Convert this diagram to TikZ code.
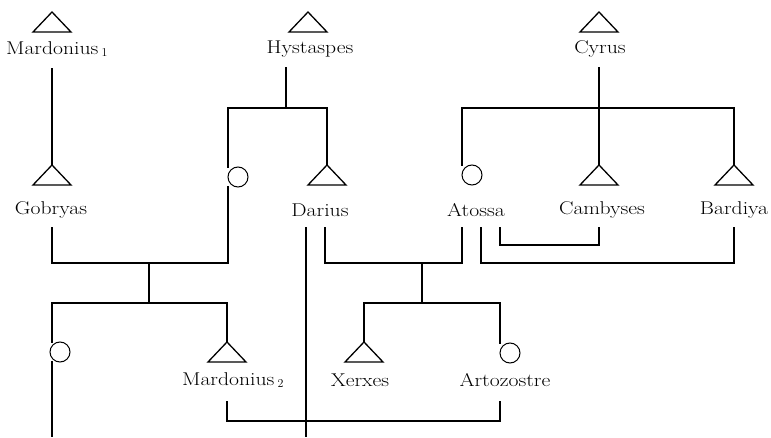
\documentclass[tikz,border=0pt]{standalone}
\usepackage{fontspec}
\setmainfont{Latin Modern Roman}[FakeStretch=1.17]
\usetikzlibrary{calc}
\begin{document}
\begin{tikzpicture}[x=1pt,y=-1pt,
  kin/.style={line width=1.6pt},
  malesym/.style={line width=1.3pt},
  femsym/.style={circle,draw,line width=1pt,minimum size=20pt,inner sep=0pt},
  lbl/.style={inner sep=0pt,font=\fontsize{18.5}{22}\selectfont},
  line cap=rect]
\useasboundingbox (0,0) rectangle (771,438);
% male symbols: apex coordinates
\foreach \n/\x/\y in {mar1/52/12,hys/308/12,cyr/599/12,gob/52/165,dar/327/165,cam/599/165,bar/734/165,mar2/227/342,xer/364/342}{
  \coordinate (\n) at (\x,\y);
  \draw[malesym,line join=miter] (\n) -- ++(-19,20) -- ++(38,0) -- cycle;
}
% female symbols
\node[femsym] (sis)  at (238,177) {};
\node[femsym] (ato)  at (472,175) {};
\node[femsym] (dau)  at (60,352) {};
\node[femsym] (art)  at (510,353) {};
% labels
\node[lbl] (Lmar1) at (57,49) {Mardonius\,$_1$};
\node[lbl] (Lhys) at (310,49) {Hystaspes};
\node[lbl] (Lcyr) at (600,49) {Cyrus};
\node[lbl] (Lgob) at (51,210) {Gobryas};
\node[lbl] (Ldar) at (320,210) {Darius};
\node[lbl] (Lato) at (476,210) {Atossa};
\node[lbl] (Lcam) at (602,210) {Cambyses};
\node[lbl] (Lbar) at (734,210) {Bardiya};
\node[lbl] (Lmar2) at (233,380) {Mardonius\,$_2$};
\node[lbl] (Lxer) at (360,380) {Xerxes};
\node[lbl] (Lart) at (505,380) {Artozostre};
% junction coordinates
\coordinate (mar1d) at (52,69);
\coordinate (hysd) at (286,68);
\coordinate (hysb) at (286,108);
\coordinate (hysL) at (228,108);
\coordinate (hysR) at (327,108);
\coordinate (cyrd) at (599,68);
\coordinate (cyrb) at (599,108);
\coordinate (cyrL) at (462,108);
\coordinate (cyrR) at (734,108);
\coordinate (sisT) at (228,167);
\coordinate (sisB) at (228,187);
\coordinate (atoT) at (462,165);
\coordinate (dauT) at (52,342);
\coordinate (dauB) at (52,362);
\coordinate (dauE) at (52,436);
\coordinate (artT) at (500,343);
% row 2 descents
\coordinate (gobd) at (52,228);
\coordinate (dard1) at (306,228);
\coordinate (dard2) at (325,228);
\coordinate (atod1) at (462,228);
\coordinate (atod2) at (481,228);
\coordinate (atod3) at (500,228);
\coordinate (camd) at (599,228);
\coordinate (bard) at (734,228);
\coordinate (darE) at (306,436);
\coordinate (mar2d) at (227,402);
\coordinate (artd) at (500,402);
% marriage midpoints
\coordinate (gm) at (149,263);
\coordinate (gmb) at (149,303);
\coordinate (dm) at (422,263);
\coordinate (dmb) at (422,303);
% Mardonius1 -> Gobryas
\draw[kin] (mar1d) -- (gob);
% Hystaspes
\draw[kin] (hysd) -- (hysb);
\draw[kin] (sisT) -- (hysL) -- (hysR) -- (dar);
% Cyrus
\draw[kin] (cyrd) -- (cam);
\draw[kin] (atoT) -- (cyrL) -- (cyrR) -- (bar);
% Gobryas marriage
\draw[kin] (gobd) |- (gm) -| (sisB);
\draw[kin] (gm) -- (gmb);
\draw[kin] (dauT) -- (dauT |- gmb) -| (mar2);
\draw[kin] (dauB) -- (dauE);
% Darius long line
\draw[kin] (dard1) -- (darE);
% Darius-Atossa
\draw[kin] (dard2) |- (dm) -| (atod1);
\draw[kin] (dm) -- (dmb);
\draw[kin] (xer) -- (xer |- dmb) -| (artT);
% Atossa-Cambyses
\draw[kin] (atod3) |- ($(atod3)!0.5!(camd)+(0,17)$) -| (camd);
% Atossa-Bardiya
\draw[kin] (atod2) |- (dm -| bard) -- (bard);
% Mardonius2-Artozostre
\draw[kin] (mar2d) |- (421,421) -| (artd);
\end{tikzpicture}
\end{document}
